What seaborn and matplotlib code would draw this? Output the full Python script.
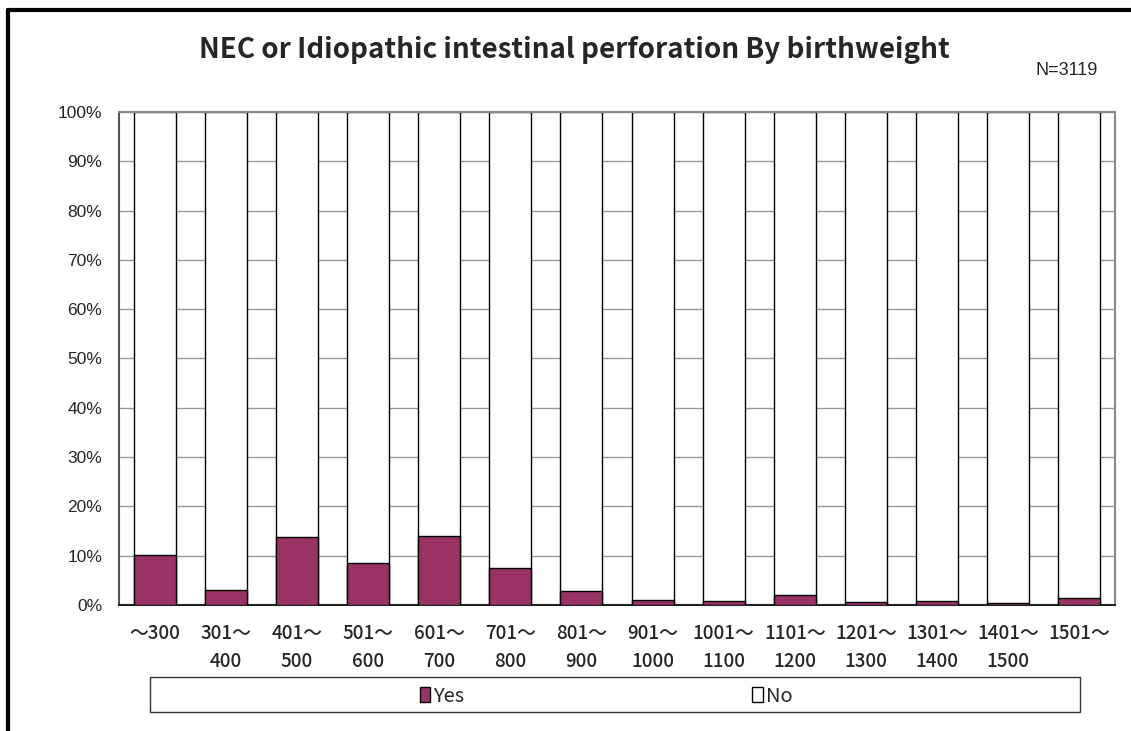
import numpy as np
import pandas as pd
import matplotlib.pyplot as plt
import seaborn as sns
from matplotlib.patches import Patch, Rectangle
from matplotlib.lines import Line2D

# birthweight groups (g) and share with NEC / intestinal perforation (%)
weight_groups = ['～300', '301～\n400', '401～\n500', '501～\n600', '601～\n700',
                 '701～\n800', '801～\n900', '901～\n1000', '1001～\n1100',
                 '1101～\n1200', '1201～\n1300', '1301～\n1400', '1401～\n1500',
                 '1501～']
yes_pct = [10.1, 3.0, 13.7, 8.6, 13.9, 7.5, 2.8, 1.1, 0.9, 2.0, 0.7, 0.9, 0.4, 1.5]
no_pct = [100 - v for v in yes_pct]
y_ticks = list(range(0, 101, 10))
y_labels = [f'{t}%' for t in y_ticks]

df = pd.DataFrame({'group': weight_groups, 'Yes': yes_pct, 'No': no_pct})
df['total'] = df['Yes'] + df['No']

sns.set_style('white')
plt.rcParams['font.family'] = ['Noto Sans CJK JP', 'DejaVu Sans']

yes_color = '#993366'

fig = plt.figure(figsize=(11.31, 7.31), dpi=100)
ax = fig.add_axes([0.1052, 0.1724, 0.8807, 0.6744])

# white "No" bar spans the whole column, "Yes" drawn over it from the bottom
sns.barplot(data=df, x='group', y='total', color='white', edgecolor='black',
            linewidth=1.0, width=0.59, saturation=1, ax=ax, zorder=2)
sns.barplot(data=df, x='group', y='Yes', color=yes_color, edgecolor='black',
            linewidth=1.0, width=0.59, saturation=1, ax=ax, zorder=3)

ax.set_xlim(-0.5, len(weight_groups) - 0.5)
ax.set_ylim(0, 100)
ax.set_yticks(y_ticks)
ax.set_yticklabels(y_labels, fontsize=12.5, family=['Liberation Sans', 'DejaVu Sans'])
ax.set_xticks(range(len(weight_groups)))
ax.set_xticklabels(weight_groups, fontsize=13.5, linespacing=1.6, weight='medium')
ax.tick_params(axis='x', which='major', length=0, pad=14)
ax.set_xticks(np.arange(0.5, len(weight_groups) - 1, 1), minor=True)
ax.tick_params(axis='x', which='minor', direction='in', length=5, color='black', width=1)
ax.tick_params(axis='y', direction='in', length=5, color='#555555', width=1, pad=12)
ax.set_xlabel('')
ax.set_ylabel('')

ax.yaxis.grid(True, color='#999999', linewidth=1)
ax.set_axisbelow(True)
for side in ['left', 'top', 'right']:
    ax.spines[side].set_color('#888888')
    ax.spines[side].set_linewidth(1.5)
    ax.spines[side].set_visible(True)
ax.spines['bottom'].set_color('#222222')
ax.spines['bottom'].set_linewidth(1.5)
ax.spines['left'].set_color('#555555')

fig.text(0.508, 0.932, 'NEC or Idiopathic intestinal perforation By birthweight',
         ha='center', va='center', fontsize=20, weight='bold')
fig.text(0.9705, 0.903, 'N=3119', ha='right', va='center', fontsize=13,
         family=['Liberation Sans', 'DejaVu Sans'])

# outer chart frame (top and left edges)
fig.add_artist(Line2D([0.0075, 1.0], [0.9865, 0.9865], transform=fig.transFigure,
                      color='black', linewidth=3))
fig.add_artist(Line2D([0.0075, 0.0075], [0.0, 0.9865], transform=fig.transFigure,
                      color='black', linewidth=3))

# legend box
fig.add_artist(Rectangle((150 / 1131, 1 - 712 / 731), 930 / 1131, 35 / 731,
                         transform=fig.transFigure, facecolor='white',
                         edgecolor='#333333', linewidth=1))
handles = [Patch(facecolor=yes_color, edgecolor='black', label='Yes'),
           Patch(facecolor='white', edgecolor='black', label='No')]
fig.legend(handles=handles, loc='center', bbox_to_anchor=(0.536, 1 - 696 / 731),
           ncol=2, frameon=False, fontsize=14.5, handlelength=0.5, handleheight=0.7,
           handletextpad=0.15, columnspacing=14.3)

fig.savefig('out.png', dpi=100)
